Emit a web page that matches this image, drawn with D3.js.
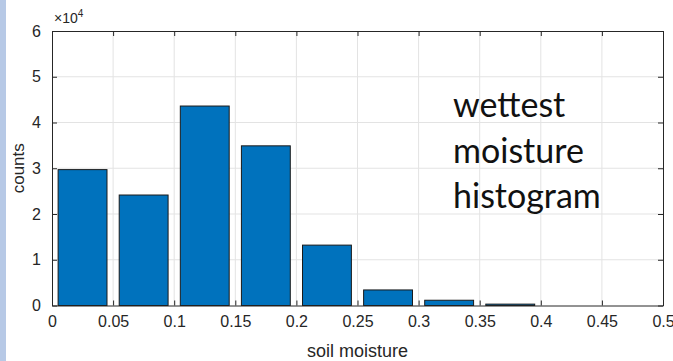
<!DOCTYPE html>
<html><head><meta charset="utf-8">
<script src="https://cdn.jsdelivr.net/npm/d3@7"></script>
<style>html,body{margin:0;padding:0;background:#fff;overflow:hidden}</style>
</head><body>
<svg id="c" width="673" height="361"></svg>
<script>
const binStarts = [0,0.05,0.1,0.15,0.2,0.25,0.3,0.35,0.4,0.45];
const counts = [29700,24150,43600,34900,13200,3400,1150,300,0,0];
const xTicks = [0,0.05,0.1,0.15,0.2,0.25,0.3,0.35,0.4,0.45,0.5];
const xTickLabels = ["0","0.05","0.1","0.15","0.2","0.25","0.3","0.35","0.4","0.45","0.5"];
const yTicks = [0,1,2,3,4,5,6];
const noteLines = ["wettest","moisture","histogram"];

const svg = d3.select("#c");
svg.append("rect").attr("x",0).attr("y",0).attr("width",6).attr("height",361).attr("fill","#b7c9e6");

const L=52,R=663,T=31,B=305.5;
const x = d3.scaleLinear().domain([0,0.5]).range([L,R]);
const y = d3.scaleLinear().domain([0,60000]).range([B,T]);
const axisCol="#262626", gridCol="#e3e3e3", font="'Liberation Sans', Arial, sans-serif";

// grid
const g = svg.append("g");
g.selectAll(".gx").data(xTicks.slice(1,-1)).join("line")
 .attr("x1",d=>x(d)).attr("x2",d=>x(d)).attr("y1",T).attr("y2",B).attr("stroke",gridCol);
g.selectAll(".gy").data(yTicks.slice(1,-1)).join("line")
 .attr("y1",d=>y(d*1e4)).attr("y2",d=>y(d*1e4)).attr("x1",L).attr("x2",R).attr("stroke",gridCol);

// bars
const bw = 0.05;
svg.append("g").selectAll("rect").data(binStarts.map((s,i)=>({s,c:counts[i]})).filter(d=>d.c>0)).join("rect")
 .attr("x",d=>x(d.s+bw*0.1)).attr("width",d=>x(d.s+bw*0.9)-x(d.s+bw*0.1))
 .attr("y",d=>y(d.c)).attr("height",d=>y(0)-y(d.c))
 .attr("fill","#0072BD").attr("stroke","#1a1a1a").attr("stroke-width",1);

// axes (MATLAB style, ticks inward, box)
const xa = d3.axisBottom(x).tickValues(xTicks).tickFormat((d,i)=>xTickLabels[i]).tickSizeInner(-5).tickSizeOuter(0).tickPadding(10);
const ax = svg.append("g").attr("transform",`translate(0,${B})`).call(xa);
const ya = d3.axisLeft(y).tickValues(yTicks.map(v=>v*1e4)).tickFormat(d=>d/1e4).tickSizeInner(-5).tickSizeOuter(0).tickPadding(11);
const ay = svg.append("g").attr("transform",`translate(${L},0)`).call(ya);
const xt = svg.append("g").attr("transform",`translate(0,${T})`).call(d3.axisTop(x).tickValues(xTicks).tickFormat("").tickSizeInner(-5).tickSizeOuter(0));
const yr = svg.append("g").attr("transform",`translate(${R},0)`).call(d3.axisRight(y).tickValues(yTicks.map(v=>v*1e4)).tickFormat("").tickSizeInner(-5).tickSizeOuter(0));
[ax,ay,xt,yr].forEach(a=>{
  a.selectAll("path").attr("stroke",axisCol);
  a.selectAll("line").attr("stroke",axisCol);
  a.selectAll("text").attr("fill",axisCol).style("font-family",font).style("font-size","16px");
});
ax.selectAll("text").attr("dy","0.71em");

svg.append("text").attr("x",L+2).attr("y",T-8).attr("fill",axisCol).style("font-family",font).style("font-size","14px")
 .html("×10<tspan dy='-6' font-size='10px'>4</tspan>");

svg.append("text").attr("x",(L+R)/2).attr("y",357).attr("text-anchor","middle").attr("fill",axisCol)
 .style("font-family",font).style("font-size","18px").text("soil moisture");
svg.append("text").attr("transform",`translate(24,${(T+B)/2}) rotate(-90)`).attr("text-anchor","middle").attr("fill",axisCol)
 .style("font-family",font).style("font-size","17px").text("counts");

svg.append("g").selectAll("text").data(noteLines).join("text")
 .attr("x",453).attr("y",(d,i)=>117+i*45.5).attr("fill","#111")
 .style("font-family","Lato, 'Open Sans', sans-serif").style("font-size","34px").text(d=>d);
</script>
</body></html>
